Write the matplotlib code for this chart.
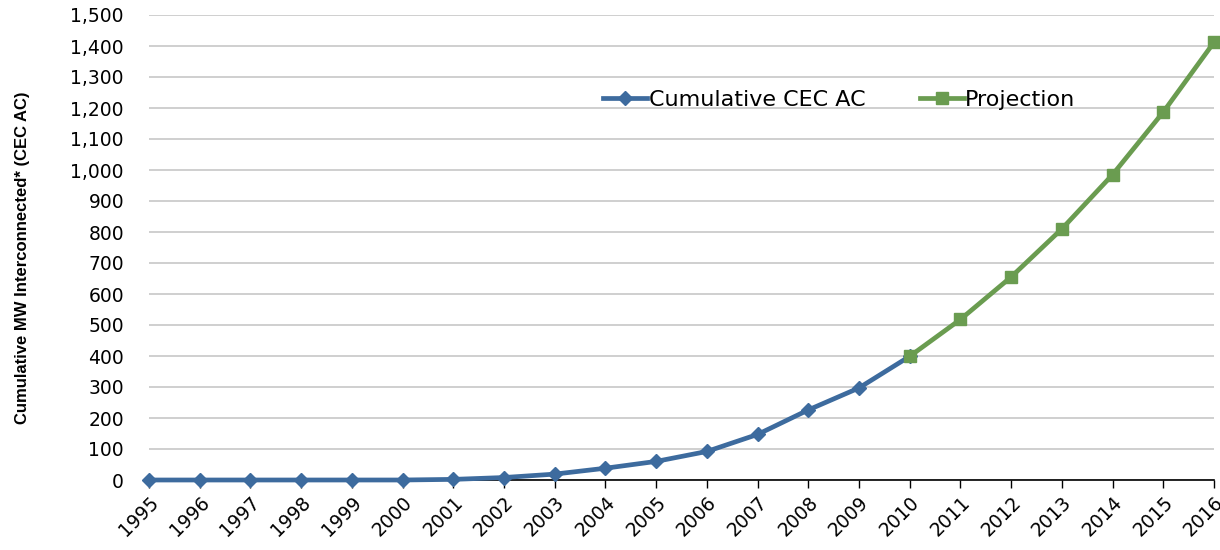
import matplotlib
matplotlib.use("Agg")
import matplotlib.pyplot as plt
from matplotlib.ticker import FuncFormatter, MultipleLocator

plt.rcParams['font.family'] = ['DejaVu Sans']

years = list(range(1995, 2017))
hist_years = list(range(1995, 2011))
hist_values = [0, 0, 0, 0, 0, 0, 2, 8, 19, 38, 60, 92, 147, 226, 297, 399]
proj_years = list(range(2010, 2017))
proj_values = [399, 518, 655, 810, 985, 1187, 1412]

blue = "#3d6b9e"
green = "#6a9c50"

fig = plt.figure(figsize=(12.2, 5.5), dpi=100)
ax = fig.add_axes([149/1220, 70/550, (1214-149)/1220, 465/550])

ax.plot(hist_years, hist_values, color=blue, lw=3.4, marker='D', ms=7.5,
        label='Cumulative CEC AC', clip_on=False, zorder=3)
ax.plot(proj_years, proj_values, color=green, lw=3.4, marker='s', ms=8.5,
        label='Projection', clip_on=False, zorder=4)

ax.set_xlim(1995, 2016)
ax.set_ylim(0, 1500)
ax.yaxis.set_major_locator(MultipleLocator(100))
ax.yaxis.set_major_formatter(FuncFormatter(lambda v, p: f"{int(v):,}"))
ax.set_xticks(years)
ax.set_xticklabels([str(y) for y in years], rotation=45, ha='right', va='top',
                   rotation_mode='anchor', fontsize=13.5)
ax.tick_params(axis='y', labelsize=13.5, length=0, pad=18)
ax.tick_params(axis='x', length=6, width=1, direction='out', pad=3, color='black')

ax.grid(axis='y', color='#cccccc', lw=1.3)
ax.set_axisbelow(True)
for s in ['top', 'right', 'left']:
    ax.spines[s].set_visible(False)
ax.spines['bottom'].set_color('black')
ax.spines['bottom'].set_linewidth(1.2)
ax.spines['bottom'].set_zorder(2)

ax.set_ylabel('Cumulative MW Interconnected* (CEC AC)', fontsize=12,
              fontweight='bold', family=['Liberation Sans', 'DejaVu Sans'])
ax.yaxis.set_label_coords(-0.112, 0.478)

leg = fig.legend(loc='center left', bbox_to_anchor=(603/1220, 1 - 100/550),
                 ncol=2, frameon=False, fontsize=16, handlelength=2.0,
                 handletextpad=0.05, columnspacing=2.45, borderaxespad=0,
                 borderpad=0)

fig.savefig('out.png', dpi=100)
